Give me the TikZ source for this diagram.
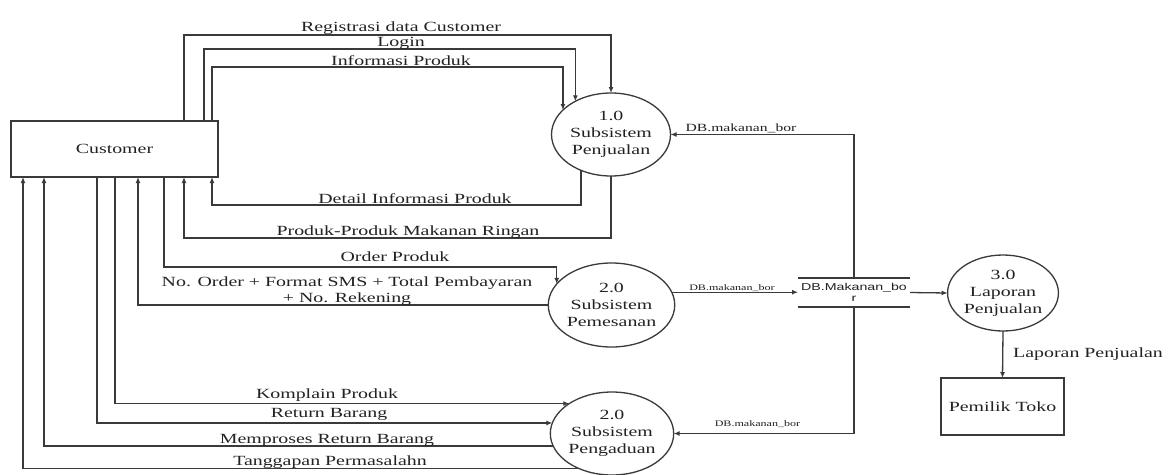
\documentclass[tikz,border=0pt]{standalone}
\usepackage{fontspec}
\setmainfont{Liberation Serif}[FakeStretch=1.42]
\newfontfamily\storefont{Liberation Sans}[FakeStretch=1.42]
\usetikzlibrary{arrows.meta,shapes.geometric,calc}
\definecolor{linec}{HTML}{3A3A3A}
\definecolor{textc}{HTML}{222222}

\begin{document}
\begin{tikzpicture}[x=1pt,y=-1pt,
  wire/.style={draw=linec, line width=1.3pt},
  flow/.style={wire, -{Latex[length=6pt,width=5pt]}},
  proc/.style={ellipse, draw=linec, line width=1.3pt, inner sep=0pt, outer sep=0pt,
    align=center, text=textc, font=\fontsize{14}{17}\selectfont},
  ext/.style={rectangle, draw=linec, line width=1.3pt, inner sep=0pt, outer sep=0pt,
    text=textc, font=\fontsize{14}{17}\selectfont},
  lbl/.style={anchor=base, inner sep=0pt, text=textc, font=\fontsize{14}{16}\selectfont},
  dblbl/.style={anchor=base, inner sep=0pt, text=textc}]

% canvas
\fill[white] (0,0) rectangle (1169,474);
\useasboundingbox (0,0) rectangle (1169,474);

% external entities
\node[ext, minimum width=207pt, minimum height=56pt] (cust) at (114.5,149) {Customer};
\node[ext, minimum width=123pt, minimum height=57pt] (owner) at (1002.5,406.5) {Pemilik Toko};

% processes
\node[proc, minimum width=119pt, minimum height=83pt] (p1) at (611,134.5) {1.0\\Subsistem\\Penjualan};
\node[proc, minimum width=119pt, minimum height=84pt] (p2) at (611.5,305) {2.0\\Subsistem\\Pemesanan};
\node[proc, minimum width=120pt, minimum height=83pt] (p3) at (612,433.5) {2.0\\Subsistem\\Pengaduan};
\node[proc, minimum width=110pt, minimum height=76pt] (p4) at (1003,293) {3.0\\Laporan\\Penjualan};

% data store
\node[inner sep=0pt, outer sep=0pt, minimum width=112pt, minimum height=29pt, align=center,
  text=textc, font=\storefont\fontsize{10}{11}\selectfont] (store) at (854,292.5) {DB.Makanan\_bo\\r};
\draw[wire] (store.north west) -- (store.north east);
\draw[wire] (store.south west) -- (store.south east);

% Customer -> Subsistem Penjualan
\draw[flow] ($(cust.north east)+(-34,0)$) -- ++(0,-86) -| (p1.north);
\draw[flow] ($(cust.north east)+(-14,0)$) -- ++(0,-72) -| (p1.137);
\draw[flow] ($(cust.north east)+(-6,0)$) -- ++(0,-54) -| (p1.153);
\node[lbl] (lreg) at (401,31) {Registrasi data Customer};
\node[lbl] (llog) at (401,46) {Login};
\node[lbl] (linf) at (401,65) {Informasi Produk};

% Subsistem Penjualan -> Customer
\draw[flow] (p1.230) |- (212,205) -- ($(cust.south east)+(-6,0)$);
\draw[flow] (p1.south) |- (184,238) -- ($(cust.south east)+(-34,0)$);
\node[lbl] (ldet) at (415,203) {Detail Informasi Produk};
\node[lbl] (lmak) at (408,235) {Produk-Produk Makanan Ringan};

% Customer <-> Subsistem Pemesanan
\draw[flow] ($(cust.south east)+(-54,0)$) -- ++(0,90) -| (p2.159);
\draw[flow] (p2.west) -| ($(cust.south east)+(-80,0)$);
\node[lbl] (lord) at (395,261) {Order Produk};
\node[lbl, align=center, font=\fontsize{14}{16}\selectfont] (lsms) at (347,302)
  {No. Order + Format SMS + Total Pembayaran\\+ No. Rekening};

% Customer <-> Subsistem Pengaduan
\draw[flow] ($(cust.south east)+(-103,0)$) |- (p3.145);
\draw[flow] ($(cust.south east)+(-121,0)$) |- (p3.170);
\draw[flow] (p3.192) -| ($(cust.south east)+(-174,0)$);
\draw[flow] (p3.226) -| ($(cust.south east)+(-195,0)$);
\node[lbl] (lkom) at (327,398) {Komplain Produk};
\node[lbl] (lret) at (329,417) {Return Barang};
\node[lbl] (lpro) at (327,443) {Memproses Return Barang};
\node[lbl] (ltan) at (330,465) {Tanggapan Permasalahn};

% data store flows
\draw[flow] (p2.12) -- (p2.12 -| store.west);
\draw[flow] (store.north) |- (p1.east);
\draw[flow] (store.south) |- (p3.east);
\draw[flow] (store.east) -- (p4.west);
\node[dblbl, font=\fontsize{11}{12}\selectfont] (ldb1) at (741,131.5) {DB.makanan\_bor};
\node[dblbl, font=\fontsize{8.5}{9}\selectfont] (ldb2) at (732,290.5) {DB.makanan\_bor};
\node[dblbl, font=\fontsize{8.5}{9}\selectfont] (ldb3) at (757.5,426.5) {DB.makanan\_bor};

% report to owner
\draw[flow] (p4.south) -- (owner.north);
\node[lbl] (llap) at (1088,357) {Laporan Penjualan};

\end{tikzpicture}
\end{document}
